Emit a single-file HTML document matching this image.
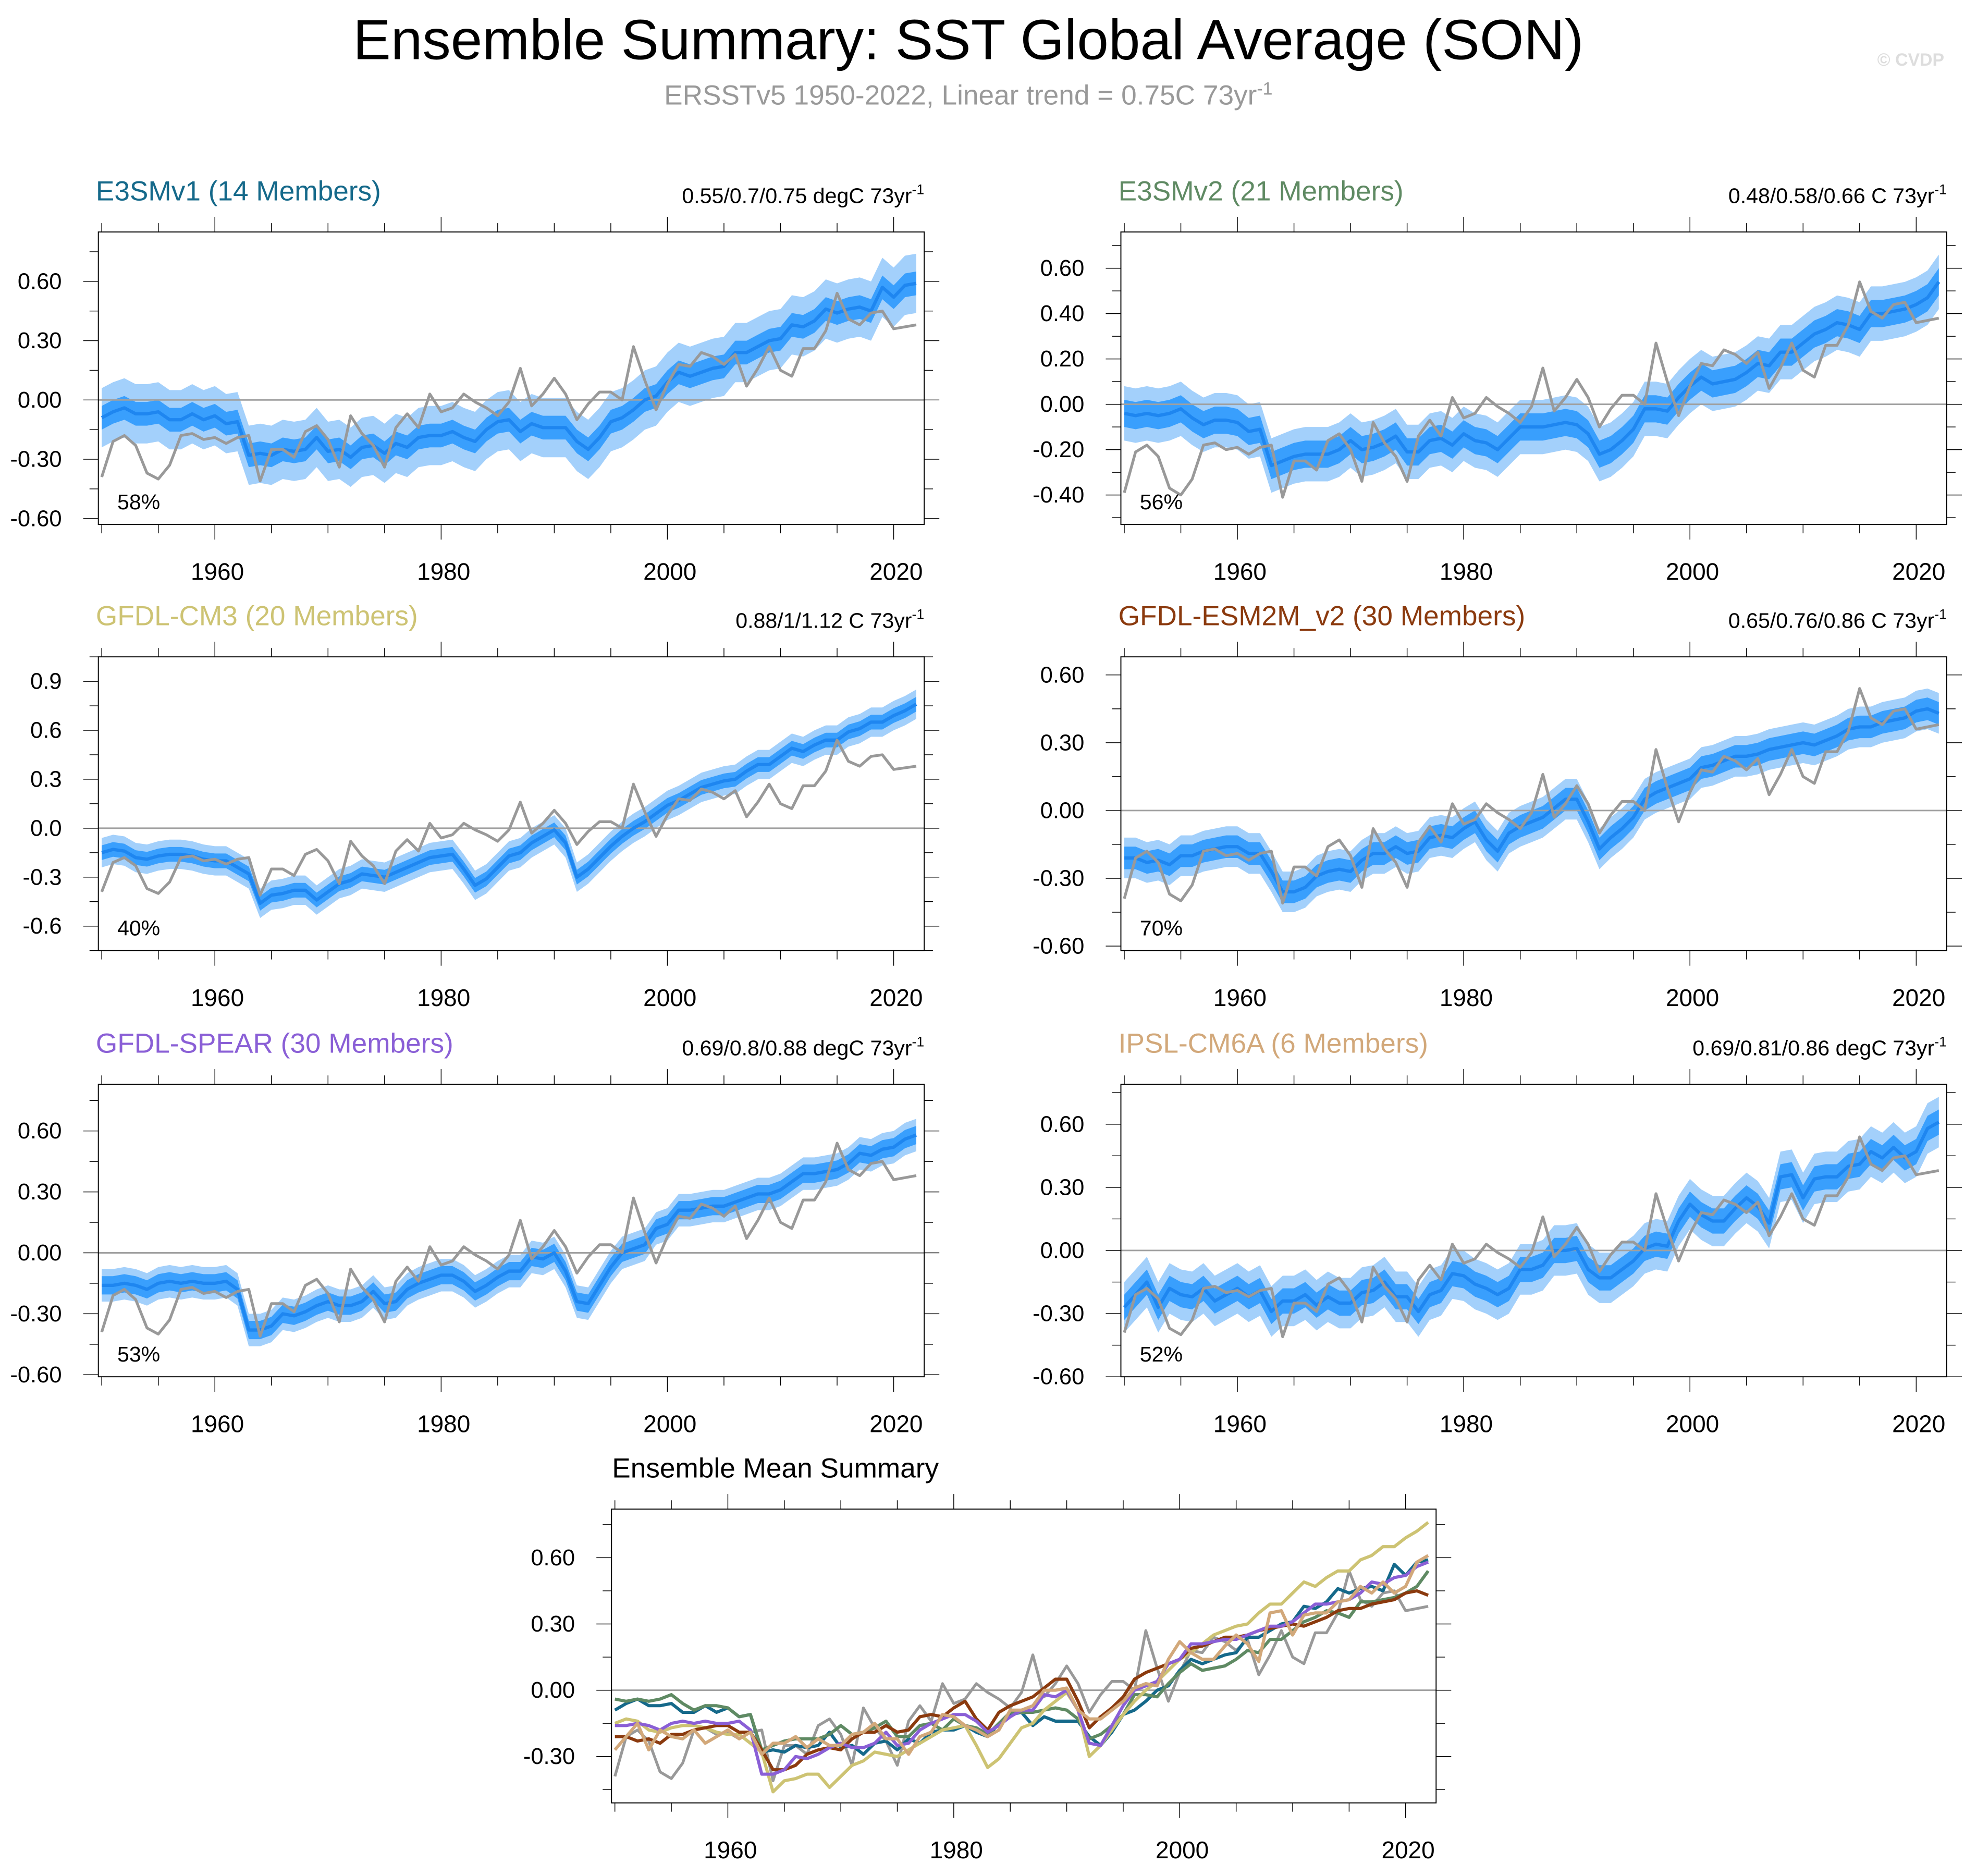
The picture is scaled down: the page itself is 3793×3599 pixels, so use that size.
<!DOCTYPE html>
<html><head><meta charset="utf-8"><title>Ensemble Summary: SST Global Average (SON)</title>
<style>
html,body{margin:0;padding:0;background:#fff;}
svg{display:block;font-family:"Liberation Sans",sans-serif;}
</style></head>
<body>
<svg id="chart" xmlns="http://www.w3.org/2000/svg" width="3793" height="3599" viewBox="0 0 1568 1488" preserveAspectRatio="none">
<rect x="0" y="0" width="1568" height="1488" fill="#fff"/>
<text x="768" y="47" font-size="45" text-anchor="middle" fill="#000">Ensemble Summary: SST Global Average (SON)</text>
<text x="768" y="83" font-size="22" text-anchor="middle" fill="#999">ERSSTv5 1950-2022, Linear trend = 0.75C 73yr<tspan font-size="14" dy="-8">-1</tspan></text>
<text x="1542" y="52" font-size="14" text-anchor="end" fill="#ddd" font-weight="bold">© CVDP</text>
<g id="plots"></g>
</svg>
<script>
const years = [];
for (let y = 1950; y <= 2022; y++) years.push(y);

const obs = [-0.39,-0.21,-0.18,-0.23,-0.37,-0.40,-0.33,-0.18,-0.17,-0.20,-0.19,-0.22,-0.19,-0.18,-0.41,-0.25,-0.25,-0.29,-0.16,-0.13,-0.20,-0.34,-0.08,-0.17,-0.23,-0.34,-0.14,-0.07,-0.14,0.03,-0.06,-0.04,0.03,-0.01,-0.04,-0.08,-0.01,0.16,-0.03,0.03,0.11,0.03,-0.10,-0.02,0.04,0.04,0.00,0.27,0.10,-0.05,0.08,0.18,0.17,0.24,0.22,0.18,0.23,0.07,0.16,0.27,0.15,0.12,0.26,0.26,0.35,0.54,0.41,0.38,0.44,0.45,0.36,0.37,0.38];

const meanE3SMv1 = [-0.09,-0.06,-0.04,-0.07,-0.07,-0.06,-0.10,-0.10,-0.07,-0.10,-0.08,-0.12,-0.11,-0.28,-0.27,-0.28,-0.25,-0.26,-0.25,-0.19,-0.26,-0.25,-0.29,-0.24,-0.23,-0.27,-0.22,-0.24,-0.19,-0.18,-0.18,-0.16,-0.19,-0.21,-0.15,-0.11,-0.10,-0.16,-0.12,-0.14,-0.14,-0.14,-0.21,-0.25,-0.19,-0.11,-0.09,-0.05,0.00,0.02,0.09,0.14,0.12,0.14,0.16,0.17,0.24,0.24,0.27,0.30,0.31,0.38,0.37,0.40,0.46,0.44,0.46,0.47,0.45,0.57,0.52,0.58,0.59];
const meanE3SMv2 = [-0.04,-0.05,-0.04,-0.05,-0.04,-0.02,-0.06,-0.09,-0.07,-0.07,-0.08,-0.12,-0.11,-0.27,-0.25,-0.23,-0.22,-0.22,-0.22,-0.20,-0.16,-0.20,-0.19,-0.17,-0.14,-0.21,-0.21,-0.16,-0.15,-0.18,-0.13,-0.16,-0.17,-0.20,-0.15,-0.10,-0.10,-0.10,-0.09,-0.08,-0.09,-0.13,-0.22,-0.20,-0.16,-0.11,-0.02,-0.02,-0.03,0.03,0.08,0.12,0.09,0.10,0.11,0.14,0.18,0.17,0.23,0.23,0.27,0.31,0.33,0.36,0.35,0.33,0.40,0.40,0.41,0.42,0.44,0.47,0.54];
const meanCM3 = [-0.15,-0.13,-0.14,-0.18,-0.19,-0.17,-0.16,-0.16,-0.17,-0.19,-0.20,-0.20,-0.24,-0.28,-0.46,-0.41,-0.40,-0.38,-0.38,-0.44,-0.39,-0.34,-0.32,-0.28,-0.29,-0.30,-0.27,-0.24,-0.21,-0.18,-0.17,-0.16,-0.25,-0.35,-0.31,-0.24,-0.17,-0.15,-0.09,-0.05,-0.01,-0.09,-0.30,-0.25,-0.18,-0.11,-0.05,0.00,0.04,0.09,0.14,0.17,0.21,0.25,0.27,0.29,0.30,0.35,0.39,0.39,0.44,0.49,0.47,0.51,0.54,0.54,0.59,0.61,0.65,0.65,0.69,0.72,0.76];
const meanESM2M = [-0.21,-0.21,-0.23,-0.22,-0.24,-0.20,-0.20,-0.18,-0.17,-0.16,-0.16,-0.19,-0.19,-0.27,-0.36,-0.36,-0.34,-0.29,-0.27,-0.26,-0.27,-0.22,-0.19,-0.19,-0.16,-0.19,-0.18,-0.12,-0.11,-0.12,-0.08,-0.05,-0.13,-0.18,-0.10,-0.07,-0.05,-0.03,0.01,0.05,0.05,-0.05,-0.17,-0.12,-0.08,-0.03,0.05,0.08,0.10,0.12,0.14,0.19,0.20,0.22,0.24,0.24,0.25,0.27,0.28,0.29,0.30,0.29,0.31,0.33,0.36,0.37,0.37,0.39,0.40,0.41,0.44,0.45,0.43];
const meanSPEAR = [-0.16,-0.16,-0.15,-0.16,-0.18,-0.15,-0.14,-0.15,-0.14,-0.15,-0.15,-0.14,-0.18,-0.38,-0.38,-0.36,-0.30,-0.31,-0.29,-0.26,-0.24,-0.26,-0.26,-0.24,-0.19,-0.25,-0.24,-0.18,-0.15,-0.13,-0.11,-0.11,-0.14,-0.19,-0.16,-0.12,-0.09,-0.09,-0.02,-0.03,0.00,-0.09,-0.24,-0.25,-0.16,-0.07,0.00,0.02,0.04,0.12,0.14,0.21,0.21,0.22,0.23,0.23,0.25,0.27,0.29,0.29,0.31,0.35,0.39,0.39,0.40,0.41,0.44,0.49,0.48,0.51,0.52,0.56,0.58];
const meanIPSL = [-0.27,-0.21,-0.15,-0.27,-0.18,-0.21,-0.22,-0.18,-0.24,-0.21,-0.18,-0.22,-0.19,-0.29,-0.24,-0.24,-0.21,-0.26,-0.22,-0.25,-0.25,-0.20,-0.19,-0.15,-0.22,-0.22,-0.29,-0.21,-0.19,-0.11,-0.12,-0.16,-0.18,-0.21,-0.18,-0.09,-0.09,-0.07,0.00,0.00,0.01,-0.09,-0.13,-0.13,-0.09,-0.05,0.01,0.03,0.02,0.14,0.22,0.17,0.14,0.14,0.20,0.25,0.21,0.13,0.35,0.36,0.25,0.34,0.35,0.35,0.40,0.41,0.47,0.44,0.49,0.44,0.47,0.58,0.61];

const innerSpread = [0.06, 0.06, 0.045, 0.05, 0.045, 0.06];
const outerSpread = [0.15, 0.12, 0.09, 0.09, 0.08, 0.12];

const modelNames = ["E3SMv1 (14 Members)","E3SMv2 (21 Members)","GFDL-CM3 (20 Members)","GFDL-ESM2M_v2 (30 Members)","GFDL-SPEAR (30 Members)","IPSL-CM6A (6 Members)"];
const trendLabels = ["0.55/0.7/0.75 degC 73yr","0.48/0.58/0.66 C 73yr","0.88/1/1.12 C 73yr","0.65/0.76/0.86 C 73yr","0.69/0.8/0.88 degC 73yr","0.69/0.81/0.86 degC 73yr"];
const pctLabels = ["58%","56%","40%","70%","53%","52%"];
const yTicks = [[-0.6,-0.3,0,0.3,0.6],[-0.4,-0.2,0,0.2,0.4,0.6],[-0.6,-0.3,0,0.3,0.6,0.9],[-0.6,-0.3,0,0.3,0.6],[-0.6,-0.3,0,0.3,0.6],[-0.6,-0.3,0,0.3,0.6]];
const yTickDigits = [2,2,1,2,2,2];
const yRanges = [[-0.63,0.85],[-0.53,0.76],[-0.75,1.05],[-0.62,0.68],[-0.61,0.83],[-0.60,0.79]];
const xTicks = [1960,1980,2000,2020];
const modelColors = ["#15698a","#5f8a63","#cdc373","#8b3a0e","#8a5fd6","#d2a87a"];
const means = [meanE3SMv1, meanE3SMv2, meanCM3, meanESM2M, meanSPEAR, meanIPSL];

const NS = "http://www.w3.org/2000/svg";
const root = document.getElementById("plots");
function mk(tag, attrs, parent) {
  const e = document.createElementNS(NS, tag);
  for (const k in attrs) e.setAttribute(k, attrs[k]);
  (parent || root).appendChild(e);
  return e;
}
function fmt(v, d) { return (v < 0 ? "-" : "") + Math.abs(v).toFixed(d); }

function drawAxes(g, box, xs, ys, ticks, digits, yr, namePrefix) {
  const zl = mk("line", {x1: box.x, x2: box.x + box.w, y1: ys(0), y2: ys(0), stroke: "#a0a0a0", "stroke-width": 1.2}, g);
  
  
  const fr = mk("rect", {x: box.x, y: box.y, width: box.w, height: box.h, fill: "none", stroke: "#000", "stroke-width": 0.8}, g);
  
  
  for (let yv = 1950; yv <= 2020; yv += 5) {
    const x = xs(yv);
    const major = (yv % 20 === 0);
    const len = major ? 12 : 7;
    mk("line", {x1: x, x2: x, y1: box.y + box.h, y2: box.y + box.h + len, stroke: "#000", "stroke-width": 0.6}, g);
    mk("line", {x1: x, x2: x, y1: box.y, y2: box.y - len, stroke: "#000", "stroke-width": 0.6}, g);
  }
  xTicks.forEach(function (t) {
    const tx = mk("text", {x: xs(t) + 2, y: box.y + box.h + 44, "font-size": 19, "text-anchor": "middle", fill: "#000"}, g);
    tx.textContent = String(t);
    
    
  });
  const step = ticks[1] - ticks[0];
  const minor = step / 2;
  for (let v = ticks[0] - 4 * minor; v <= ticks[ticks.length - 1] + 4 * minor + 1e-9; v += minor) {
    const y = ys(v);
    if (y < box.y - 0.5 || y > box.y + box.h + 0.5) continue;
    const isMajor = ticks.some(function (t) { return Math.abs(t - v) < 1e-6; });
    const len = isMajor ? 12 : 7;
    mk("line", {x1: box.x, x2: box.x - len, y1: y, y2: y, stroke: "#000", "stroke-width": 0.6}, g);
    mk("line", {x1: box.x + box.w, x2: box.x + box.w + len, y1: y, y2: y, stroke: "#000", "stroke-width": 0.6}, g);
  }
  ticks.forEach(function (t) {
    const ty = mk("text", {x: box.x - 29, y: ys(t) + 6, "font-size": 18, "text-anchor": "end", fill: "#000"}, g);
    ty.textContent = fmt(t, digits);
    
    
  });
}

function pathFrom(arr, xs, ys) {
  return arr.map(function (v, i) { return (i ? "L" : "M") + xs(years[i]).toFixed(2) + "," + ys(v).toFixed(2); }).join("");
}
function bandFrom(arr, w, xs, ys) {
  let d = "";
  arr.forEach(function (v, i) { d += (i ? "L" : "M") + xs(years[i]).toFixed(2) + "," + ys(v + w).toFixed(2); });
  for (let i = arr.length - 1; i >= 0; i--) d += "L" + xs(years[i]).toFixed(2) + "," + ys(arr[i] - w).toFixed(2);
  return d + "Z";
}

const boxes = [
  {x: 78, y: 184, w: 655, h: 232}, {x: 889, y: 184, w: 655, h: 232},
  {x: 78, y: 521, w: 655, h: 233}, {x: 889, y: 521, w: 655, h: 233},
  {x: 78, y: 860, w: 655, h: 232}, {x: 889, y: 860, w: 655, h: 232}
];
const X0 = 1949.7, X1 = 2022.7;
const slugs = ["e3smv1","e3smv2","gfdl-cm3","gfdl-esm2m","gfdl-spear","ipsl-cm6a"];

means.forEach(function (mean, m) {
  const box = boxes[m];
  const slug = slugs[m];
  const g = mk("g", {});
  
  
  const yr = yRanges[m];
  const xs = function (v) { return box.x + (v - X0) / (X1 - X0) * box.w; };
  const ys = function (v) { return box.y + box.h - (v - yr[0]) / (yr[1] - yr[0]) * box.h; };
  const outer = mk("path", {d: bandFrom(mean, outerSpread[m], xs, ys), fill: "#a3d0fb"}, g);
  
  
  const inner = mk("path", {d: bandFrom(mean, innerSpread[m], xs, ys), fill: "#399ffd"}, g);
  
  
  drawAxes(g, box, xs, ys, yTicks[m], yTickDigits[m], yr, slug);
  const ml = mk("path", {d: pathFrom(mean, xs, ys), fill: "none", stroke: "#1e86f0", "stroke-width": 2.6, "stroke-linejoin": "round"}, g);
  
  
  const ol = mk("path", {d: pathFrom(obs, xs, ys), fill: "none", stroke: "#999", "stroke-width": 2.2, "stroke-linejoin": "round"}, g);
  
  
  const tt = mk("text", {x: box.x - 2, y: box.y - 25, "font-size": 22, fill: modelColors[m]}, g);
  tt.textContent = modelNames[m];
  
  
  const tr = mk("text", {x: box.x + box.w, y: box.y - 23, "font-size": 17, "text-anchor": "end", fill: "#000"}, g);
  tr.textContent = trendLabels[m];
  const sup = mk("tspan", {"font-size": 11, dy: -7}, tr);
  sup.textContent = "-1";
  
  
  const pc = mk("text", {x: box.x + 15, y: box.y + box.h - 12, "font-size": 17, fill: "#000"}, g);
  pc.textContent = pctLabels[m];
  
  
});

(function () {
  const box = {x: 485, y: 1197, w: 654, h: 233};
  const yr = [-0.51, 0.82];
  const g = mk("g", {});
  
  
  const xs = function (v) { return box.x + (v - X0) / (X1 - X0) * box.w; };
  const ys = function (v) { return box.y + box.h - (v - yr[0]) / (yr[1] - yr[0]) * box.h; };
  drawAxes(g, box, xs, ys, [-0.3, 0, 0.3, 0.6], 2, yr, 'summary');
  const ol = mk("path", {d: pathFrom(obs, xs, ys), fill: "none", stroke: "#999", "stroke-width": 2.2, "stroke-linejoin": "round"}, g);
  
  
  means.forEach(function (mean, m) {
    const l = mk("path", {d: pathFrom(mean, xs, ys), fill: "none", stroke: modelColors[m], "stroke-width": 2.5, "stroke-linejoin": "round"}, g);
    
    
  });
  const t = mk("text", {x: 615, y: 1172, "font-size": 22, "text-anchor": "middle", fill: "#000"}, g);
  t.textContent = "Ensemble Mean Summary";
  
  
})();
</script>
</body></html>
